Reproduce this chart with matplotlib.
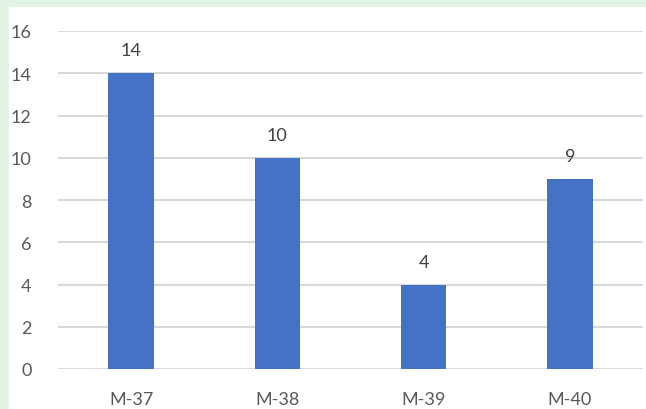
import matplotlib.pyplot as plt
from matplotlib.patches import Rectangle

categories = ['M-37', 'M-38', 'M-39', 'M-40']
values = [14, 10, 4, 9]
yticks = [0, 2, 4, 6, 8, 10, 12, 14, 16]

W, H = 646, 410
fig = plt.figure(figsize=(W / 100, H / 100), dpi=100)
fig.patch.set_facecolor('#e2f4e6')
# white chart area (screenshot crop leaves a tinted margin top/left)
fig.patches.append(Rectangle((9 / W, 0), 1, 1 - 8 / H, transform=fig.transFigure,
                             facecolor='white', edgecolor='none', zorder=-5))

ax = fig.add_axes([58 / W, 1 - 370 / H, (643 - 58) / W, (370 - 32) / H])
ax.set_facecolor('none')

x = range(len(categories))
bars = ax.bar(x, values, width=0.31, color='#4472c4', zorder=3)
for b, v in zip(bars, values):
    ax.text(b.get_x() + b.get_width() / 2, v + 0.7, str(v), ha='center', va='bottom',
            fontsize=13, color='#404040', family='Lato')

ax.set_xlim(-0.5, len(categories) - 0.5)
ax.set_ylim(0, 16)
ax.set_yticks(yticks)
ax.set_xticks(list(x))
ax.set_xticklabels(categories)
ax.grid(axis='y', color='#d9d9d9', linewidth=1.5, zorder=0)
for s in ax.spines.values():
    s.set_visible(False)
ax.tick_params(length=0, labelsize=13, labelcolor='#595959')
ax.tick_params(axis='y', pad=19)
ax.tick_params(axis='x', pad=16)
for lab in ax.get_xticklabels() + ax.get_yticklabels():
    lab.set_family('Lato')

fig.savefig('out.png', dpi=100, facecolor=fig.get_facecolor())
